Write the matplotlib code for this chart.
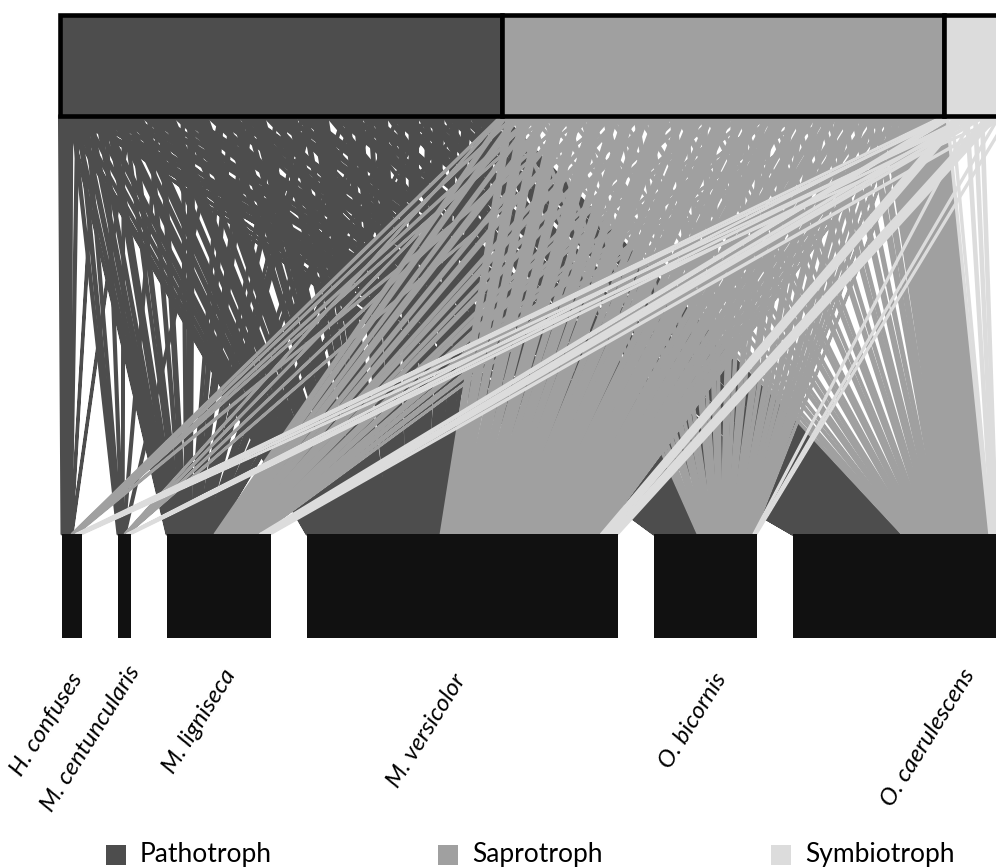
import matplotlib.pyplot as plt
from matplotlib.patches import Rectangle, Polygon

bees = ['H. confuses', 'M. centuncularis', 'M. ligniseca',
        'M. versicolor', 'O. bicornis', 'O. caerulescens']
guilds = ['Pathotroph', 'Saprotroph', 'Symbiotroph']
guild_colors = ['#4d4d4d', '#a0a0a0', '#dcdcdc']

# interactions of each fungal taxon with the bees (columns in the order of `bees`)
pathotroph = [
    [4, 0, 0, 0.5, 0, 0],
    [2.5, 0, 0.5, 0.5, 0, 0.3],
    [1.5, 1, 1.5, 1, 0, 0.5],
    [1, 1.5, 2, 1.5, 0.5, 1],
    [0, 1, 2.5, 2, 0.5, 1.5],
    [0.5, 0, 1.5, 3, 1, 2],
    [0, 1, 4, 5, 1, 3],
    [0, 0.5, 1, 2, 0.5, 1.5],
    [0.5, 0, 2, 6, 2, 4],
    [0, 0, 1.5, 3, 1, 2.5],
    [0, 1, 2.5, 8, 2.5, 5],
    [0, 0, 1, 2, 0.5, 2],
    [0, 0, 4, 10, 4, 7],
    [0, 1, 1, 3, 1, 2],
    [0, 0, 2, 4, 1.5, 4],
    [0, 0, 0.5, 1.5, 0.5, 1],
    [0, 0, 2.5, 9, 3, 7.5],
    [0, 0, 1, 3, 1, 3],
    [0, 0, 2, 5, 1.5, 4],
    [0, 0, 0.5, 2, 0.5, 1.5],
    [0, 0, 4, 11, 4.5, 9],
    [0, 0, 1, 3, 1, 2.5],
    [0, 0, 1.5, 5, 2, 4],
    [0, 0, 0.5, 1.5, 0.5, 1],
    [0, 0, 2.5, 8, 2.5, 7],
    [0, 0, 1, 3, 1, 3],
    [0, 0, 1.5, 6, 2, 5],
    [0, 0, 0.5, 2, 1, 2],
    [0, 0, 1, 7, 2.5, 6],
    [0, 0, 0.5, 3, 1, 3],
    [0, 0, 0.5, 5, 1.5, 5],
    [0, 0, 0, 2, 0.5, 2],
    [0, 0, 0, 4, 1, 5],
    [0, 0, 0, 1.5, 0.5, 2],
]
saprotroph = [
    [1, 0.5, 3, 4, 1, 1],
    [0.5, 0, 4, 6.5, 1.5, 1],
    [1, 0.5, 2.5, 5, 1, 1.5],
    [0.5, 0, 5, 9, 2, 1.5],
    [0, 0.5, 3, 6, 2, 1],
    [1, 0, 4, 10, 3, 2],
    [0, 0.5, 2, 4, 1, 1],
    [0, 0, 3.5, 8, 2, 2],
    [0, 0, 2, 5, 1.5, 1.5],
    [0, 0, 3, 12, 4, 2.5],
    [0, 0, 1.5, 4, 1, 1],
    [0, 0, 2.5, 9, 2.5, 2],
    [0, 0, 1, 3, 1, 1],
    [0, 0, 2, 11, 4, 2.5],
    [0, 0, 1, 4, 1.5, 1],
    [0, 0, 1.5, 8, 2.5, 2],
    [0, 0, 0.5, 3, 1, 1],
    [0, 0, 1, 10, 4, 2.5],
    [0, 0, 0.5, 4, 1.5, 1.5],
    [0, 0, 1, 7, 3, 2.5],
    [0, 0, 0, 3, 1, 1.5],
    [0, 0, 0.5, 6, 3, 3],
    [0, 0, 0, 4, 2, 2],
    [0, 0, 0, 6, 3, 3],
    [0, 0, 0, 2, 1.5, 3],
    [0, 0, 0, 3, 1.5, 4],
    [0, 0, 0, 1, 1, 3.5],
    [0, 0, 0, 1.5, 0.5, 4.5],
    [0, 0, 0, 0.5, 0.5, 4.5],
    [0, 0, 0, 0.5, 0, 5],
    [0, 0, 0, 0, 0.5, 5],
    [0, 0, 0, 0, 0, 5],
    [0, 0, 0, 0, 0, 6],
    [0, 0, 0, 0, 0, 5],
]
symbiotroph = [
    [1.5, 0, 0, 0, 0, 1],
    [0, 1, 2, 0, 0, 1],
    [1.5, 0, 1, 8, 0, 2],
    [0, 1.5, 2, 0, 1, 2],
    [1.5, 0, 2, 0, 0, 2],
    [0, 1.5, 2, 9, 1, 3],
    [1.5, 0, 2, 0, 1, 3],
    [0, 0, 0, 0, 0, 10],
    [0, 0, 0, 0, 0, 12],
    [0, 0, 0, 0, 0, 15],
    [0, 0, 0, 0, 0, 15],
    [0, 0, 0, 0, 0, 14],
    [0, 0, 0, 0, 0, 12],
]
label_x = [78, 135, 231, 461, 722, 970]
label_y = [675, 668, 671, 676, 675, 671]

# layout in pixels
top_left, top_y0, top_y1 = 59.5, 15, 115.5
bottom_left, bottom_y0, bottom_y1 = 62, 534, 638
top_scale, bottom_scale, bee_gap = 1.253, 1.0, 36
link_edge = [2.2, 2.0, 1.6]  # outline per guild, keeps the thinnest links visible

fig = plt.figure(figsize=(9.96, 8.67), dpi=100)
ax = fig.add_axes([0, 0, 1, 1])
ax.set_xlim(0, 996)
ax.set_ylim(867, 0)
ax.axis('off')

webs = [pathotroph, saprotroph, symbiotroph]
taxa = [(row, g) for g, web in enumerate(webs) for row in web]
bee_totals = [sum(row[j] for row, _ in taxa) for j in range(len(bees))]

bee_left = []
x = bottom_left
for tot in bee_totals:
    bee_left.append(x)
    x += tot * bottom_scale + bee_gap

# links: one quadrilateral per taxon-bee pair, stacked left to right on both rows
cursor = list(bee_left)
tx = top_left
for row, g in taxa:
    col = guild_colors[g]
    for j, v in enumerate(row):
        if v == 0:
            continue
        wt = v * top_scale
        wb = v * bottom_scale
        pts = [(tx, top_y1), (tx + wt, top_y1),
               (cursor[j] + wb, bottom_y0), (cursor[j], bottom_y0)]
        ax.add_patch(Polygon(pts, closed=True, fc=col, ec=col, lw=link_edge[g],
                             joinstyle='round'))
        tx += wt
        cursor[j] += wb

# guild boxes on top
gx = top_left
for web, col in zip(webs, guild_colors):
    w = sum(sum(r) for r in web) * top_scale
    ax.add_patch(Rectangle((gx, top_y0), w, top_y1 - top_y0, fc=col,
                           ec='black', lw=3.3, zorder=5))
    gx += w

# bee boxes below
for xl, tot in zip(bee_left, bee_totals):
    ax.add_patch(Rectangle((xl, bottom_y0), tot * bottom_scale,
                           bottom_y1 - bottom_y0, fc='#111111', ec='none', zorder=5))

for name, lx, ly in zip(bees, label_x, label_y):
    ax.text(lx, ly, name, rotation=58, rotation_mode='anchor', ha='right',
            va='center', fontsize=17.5, fontstyle='italic', family='Lato')

# legend
legend_x = [106, 438, 771]
for g, lx in enumerate(legend_x):
    ax.add_patch(Rectangle((lx, 845), 20, 20, fc=guild_colors[g], ec='none'))
    ax.text(lx + 34, 862, guilds[g], fontsize=19, family='Lato', va='baseline')

fig.savefig('out.png', dpi=100)
